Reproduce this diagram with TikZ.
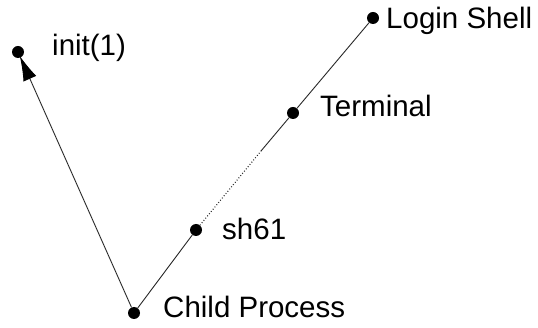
\documentclass[tikz,border=0pt]{standalone}
\usepackage{fontspec}
\setmainfont{Liberation Sans}
\usetikzlibrary{arrows.meta}
\begin{document}
\begin{tikzpicture}[x=1pt,y=-1pt,
  dotnode/.style={circle,fill=black,inner sep=0pt,minimum size=12pt},
  lbl/.style={anchor=base west,inner sep=0pt,font=\fontsize{29.5}{32}\selectfont},
  conn/.style={draw=black!85,line width=0.9pt}]
\useasboundingbox (0,0) rectangle (538,328);
\node[dotnode] (init) at (18,52) {};
\node[dotnode] (login) at (373,18) {};
\node[dotnode] (term) at (293,113) {};
\node[dotnode] (sh) at (196,230) {};
\node[dotnode] (child) at (134,313) {};
\coordinate (mid) at (261,151);
\node[lbl] (tinit) at (52,56) {init(1)};
\node[lbl] (tlogin) at (386,29) {Login Shell};
\node[lbl] (tterm) at (320,117) {Terminal};
\node[lbl] (tsh) at (222,240) {sh61};
\node[lbl] (tchild) at (163,318) {Child Process};
\draw[conn,-{Latex[length=25pt,width=14pt,color=black]},shorten >=-2pt] (child) -- (init);
\draw[conn] (child) -- (sh);
\draw[conn,dotted,line width=1.1pt] (sh) -- (mid);
\draw[conn] (mid) -- (term);
\draw[conn] (term) -- (login);
\end{tikzpicture}
\end{document}
